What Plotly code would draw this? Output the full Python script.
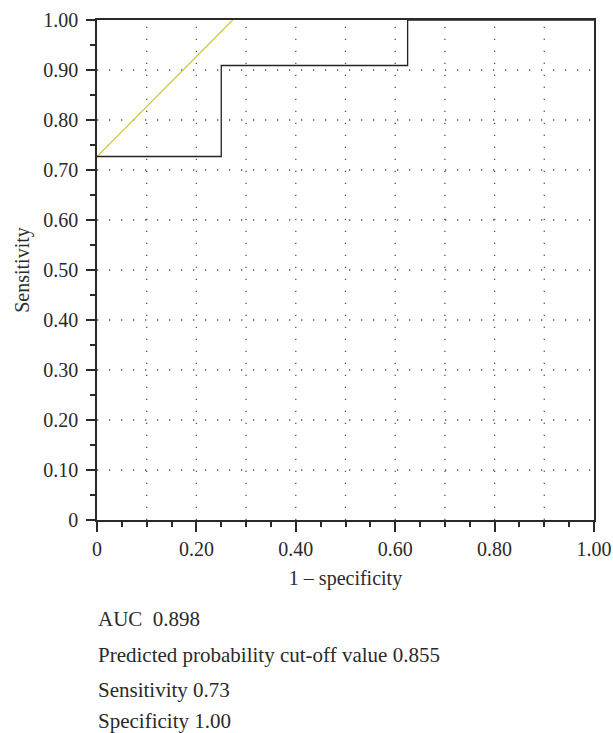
import plotly.graph_objects as go

# ROC step curve (1 - specificity, sensitivity)
roc_fpr = [0, 0.25, 0.25, 0.625, 0.625, 1.0]
roc_tpr = [0.727, 0.727, 0.909, 0.909, 1.0, 1.0]
# tangent (yellow) line at cut-off
tan_fpr = [0, 0.273]
tan_tpr = [0.727, 1.0]

x_tickvals = [0, 0.2, 0.4, 0.6, 0.8, 1.0]
x_ticktext = ["0", "0.20", "0.40", "0.60", "0.80", "1.00"]
y_tickvals = [0, 0.1, 0.2, 0.3, 0.4, 0.5, 0.6, 0.7, 0.8, 0.9, 1.0]
y_ticktext = ["0", "0.10", "0.20", "0.30", "0.40", "0.50", "0.60", "0.70", "0.80", "0.90", "1.00"]
grid_vals = [0.1, 0.2, 0.3, 0.4, 0.5, 0.6, 0.7, 0.8, 0.9]
info_lines = ["AUC  0.898", "Predicted probability cut-off value 0.855",
              "Sensitivity 0.73", "Specificity 1.00"]

FONT = "Liberation Serif"
FS = 20
FS_INFO = 21
INK = "#2a2a2a"
W, H = 613, 733
ML, MR, MT, MB = 97, 19, 20, 213

fig = go.Figure()
# dotted grid
for v in grid_vals:
    fig.add_shape(type="line", x0=v, x1=v, y0=0, y1=1, xref="x", yref="y",
                  line=dict(color="#555555", width=1.3, dash="1.3px,10.7px"), layer="below")
    fig.add_shape(type="line", x0=0, x1=1, y0=v, y1=v, xref="x", yref="y",
                  line=dict(color="#555555", width=1.3, dash="1.3px,10.7px"), layer="below")

fig.add_trace(go.Scatter(x=tan_fpr, y=tan_tpr, mode="lines",
                         line=dict(color="#d4c430", width=1.2), hoverinfo="skip"))
fig.add_trace(go.Scatter(x=roc_fpr, y=roc_tpr, mode="lines",
                         line=dict(color="#222222", width=1.3), hoverinfo="skip"))

common = dict(showline=True, linecolor=INK, linewidth=1.5, mirror=True, automargin=False,
              showgrid=False, zeroline=False, ticks="outside", tickcolor=INK, tickwidth=1.5,
              tickfont=dict(family=FONT, size=FS, color=INK))

fig.update_xaxes(range=[0, 1], tickvals=x_tickvals, ticktext=x_ticktext, ticklen=10,
                 minor=dict(tickvals=[0.05, 0.1, 0.15, 0.25, 0.3, 0.35, 0.45, 0.5, 0.55,
                                      0.65, 0.7, 0.75, 0.85, 0.9, 0.95],
                            ticks="outside", ticklen=5, tickcolor=INK, tickwidth=1.5,
                            showgrid=False),
                 title=dict(text="1 – specificity", font=dict(family=FONT, size=FS, color=INK),
                            standoff=12),
                 **common)
fig.update_yaxes(range=[0, 1], tickvals=y_tickvals, ticktext=y_ticktext, ticklen=9,
                 ticklabelstandoff=4,
                 minor=dict(tickvals=[0.05 + 0.1 * i for i in range(10)],
                            ticks="outside", ticklen=5, tickcolor=INK, tickwidth=1.5,
                            showgrid=False),
                 title=dict(text="Sensitivity", font=dict(family=FONT, size=FS, color=INK),
                            standoff=8),
                 **common)

ys = [619, 655, 690, 721]
for t, yp in zip(info_lines, ys):
    fig.add_annotation(text=t, xref="paper", yref="paper", x=(96 - ML) / (W - ML - MR),
                       y=-(yp - (H - MB)) / (H - MT - MB), xanchor="left", yanchor="middle",
                       showarrow=False, font=dict(family=FONT, size=FS_INFO, color=INK))

fig.update_layout(width=W, height=H, margin=dict(l=ML, r=MR, t=MT, b=MB),
                  plot_bgcolor="white", paper_bgcolor="white", showlegend=False)
fig.write_html("out.html")
